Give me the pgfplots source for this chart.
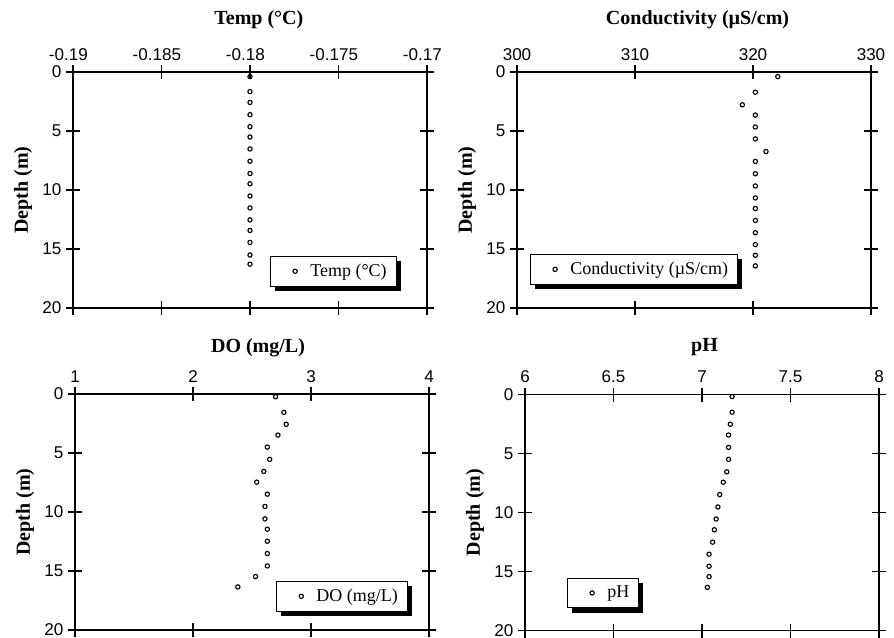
\documentclass[border=0pt]{standalone}
\usepackage{fontspec}
\setmainfont{Liberation Serif}
\setsansfont{Liberation Sans}
\usepackage{pgfplots}
\pgfplotsset{compat=1.18}
\usetikzlibrary{shadows}
\pgfplotsset{
  pt/.style={black, only marks, mark=o, mark size=1.6pt, mark options={line width=0.85pt, solid, black}},
  panel/.style={
    scale only axis, width=265.5pt, height=177pt,
    y dir=reverse, ymin=0, ymax=20,
    ytick={0,5,10,15,20}, yticklabels={0,5,10,15,20},
    xticklabel pos=upper, yticklabel pos=left,
    xtick pos=both, ytick pos=both,
    tick align=center, major tick length=10.5pt,
    axis line style={line width=1.1pt},
    every tick/.style={line width=1.1pt, black},
    ticklabel style={font=\sffamily\fontsize{12.8}{14}\selectfont},
    every axis title shift=0pt,
    title style={font=\bfseries\fontsize{15}{17}\selectfont},
    ylabel={Depth (m)},
    ylabel style={font=\bfseries\fontsize{15}{17}\selectfont, at={(axis description cs:-0.141,0.5)}, anchor=center},
    legend style={draw=black, line width=0.75pt, fill=white, inner xsep=5pt, inner ysep=4pt,
      font=\fontsize{13.5}{15}\selectfont,
      drop shadow={shadow xshift=3.5pt, shadow yshift=-3.5pt, fill=black, opacity=1}},
    legend image code/.code={\path (0pt,0pt) (22pt,0pt);
      \draw[mark repeat=1,#1] plot coordinates {(13pt,0pt)};},
  }
}
\begin{document}
\begin{tikzpicture}
\path[use as bounding box] (0,0) rectangle (670.5pt,-478.5pt);

% Top-left: Temp
\begin{axis}[panel, at={(54.75pt,-231pt)}, anchor=south west,
  xmin=-0.19, xmax=-0.17,
  xtick={-0.19,-0.185,-0.18,-0.175,-0.17},
  xticklabels={-0.19,-0.185,-0.18,-0.175,-0.17},
  xticklabel style={xshift=-3.5pt},
  title={Temp (°C)}, title style={at={(axis description cs:0.525,1.2)}, anchor=base},
  legend style={at={(0.914,0.089)}, anchor=south east}]
\addplot[pt] coordinates {
(-0.18,0.39) (-0.18,1.66) (-0.18,2.58) (-0.18,3.62) (-0.18,4.63) (-0.18,5.51)
(-0.18,6.52) (-0.18,7.56) (-0.18,8.60) (-0.18,9.47) (-0.18,10.51) (-0.18,11.52)
(-0.18,12.53) (-0.18,13.43) (-0.18,14.44) (-0.18,15.51) (-0.18,16.29)};
\addlegendentry{Temp (°C)}
\end{axis}

% Top-right: Conductivity
\begin{axis}[panel, at={(387.75pt,-231pt)}, anchor=south west,
  xmin=300, xmax=330,
  xtick={300,310,320,330}, xticklabels={300,310,320,330},
  title={Conductivity (µS/cm)}, title style={at={(axis description cs:0.51,1.2)}, anchor=base},
  legend style={at={(0.037,0.097)}, anchor=south west}]
\addplot[pt] coordinates {
(322.1,0.39) (320.2,1.71) (319.1,2.78) (320.2,3.65) (320.2,4.66) (320.2,5.67)
(321.1,6.74) (320.2,7.58) (320.2,8.62) (320.2,9.66) (320.2,10.67) (320.2,11.57)
(320.2,12.58) (320.2,13.62) (320.2,14.63) (320.2,15.53) (320.2,16.43)};
\addlegendentry{Conductivity (µS/cm)}
\end{axis}

% Bottom-left: DO
\begin{axis}[panel, at={(56.25pt,-472.5pt)}, anchor=south west,
  xmin=1, xmax=4,
  xtick={1,2,3,4}, xticklabels={1,2,3,4},
  title={DO (mg/L)}, title style={at={(axis description cs:0.517,1.174)}, anchor=base},
  legend style={at={(0.94,0.076)}, anchor=south east}]
\addplot[pt] coordinates {
(2.70,0.23) (2.77,1.56) (2.79,2.57) (2.72,3.48) (2.63,4.50) (2.65,5.54)
(2.60,6.56) (2.54,7.47) (2.63,8.49) (2.61,9.53) (2.61,10.58) (2.63,11.46)
(2.63,12.48) (2.63,13.52) (2.63,14.57) (2.53,15.47) (2.38,16.35)};
\addlegendentry{DO (mg/L)}
\end{axis}

% Bottom-right: pH
\begin{axis}[panel, at={(393.75pt,-472.9pt)}, anchor=south west,
  xmin=6, xmax=8,
  xtick={6,6.5,7,7.5,8}, xticklabels={6,6.5,7,7.5,8},
  title={pH}, title style={at={(axis description cs:0.507,1.183)}, anchor=base},
  legend style={at={(0.119,0.094)}, anchor=south west}]
\addplot[pt] coordinates {
(7.17,0.17) (7.17,1.50) (7.16,2.52) (7.15,3.43) (7.15,4.48) (7.15,5.50)
(7.14,6.55) (7.12,7.43) (7.10,8.48) (7.09,9.53) (7.08,10.55) (7.07,11.46)
(7.06,12.51) (7.04,13.53) (7.04,14.55) (7.04,15.43) (7.03,16.34)};
\addlegendentry{pH}
\end{axis}
\end{tikzpicture}
\end{document}
